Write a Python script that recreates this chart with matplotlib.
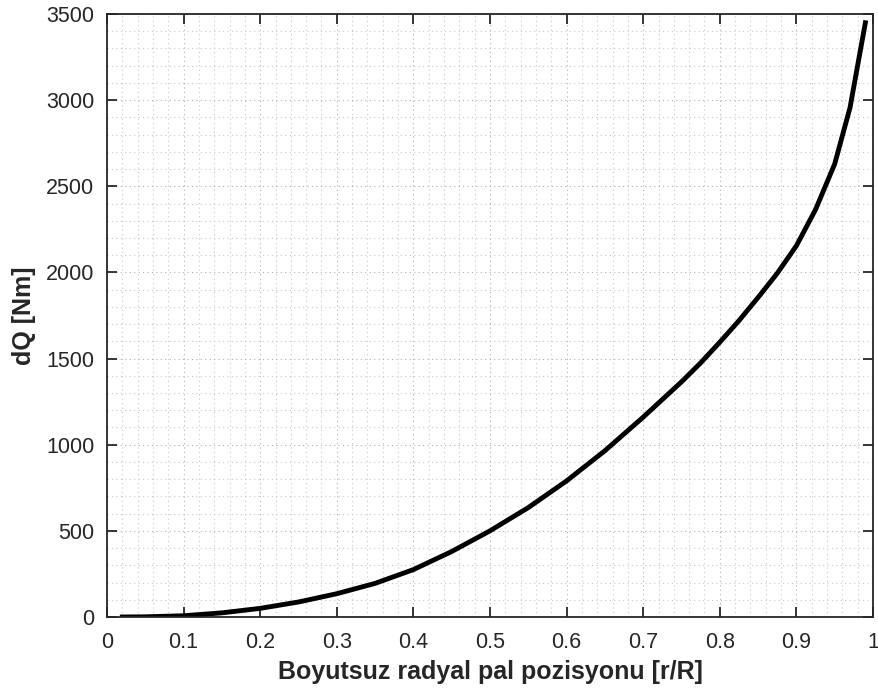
import numpy as np
import matplotlib.pyplot as plt
from matplotlib.ticker import MultipleLocator

plt.rcParams['font.family'] = ['Liberation Sans', 'DejaVu Sans']

# radyal pozisyon ve tork dagilimi
r = [0.02, 0.05, 0.1, 0.15, 0.2, 0.25, 0.3, 0.35, 0.4, 0.45, 0.5, 0.55, 0.6,
     0.65, 0.7, 0.75, 0.775, 0.8, 0.825, 0.85, 0.875, 0.9, 0.925, 0.95, 0.97, 0.99]
dQ = [0, 1, 7, 24, 50, 87, 135, 195, 275, 380, 500, 635, 790,
      965, 1160, 1365, 1475, 1595, 1720, 1855, 1995, 2155, 2365, 2630, 2957, 3449]
xticklab = ['0', '0.1', '0.2', '0.3', '0.4', '0.5', '0.6', '0.7', '0.8', '0.9', '1']

fig = plt.figure(figsize=(8.79, 7.0), dpi=100)
ax = fig.add_axes([0.1217, 0.1186, 0.8715, 0.8614])

ax.plot(r, dQ, color='black', lw=3.5, solid_joinstyle='round')

ax.set_xlim(0, 1)
ax.set_ylim(0, 3500)
ax.xaxis.set_minor_locator(MultipleLocator(0.02))
ax.yaxis.set_major_locator(MultipleLocator(500))
ax.yaxis.set_minor_locator(MultipleLocator(100))
ax.set_xticks(np.linspace(0, 1, 11))
ax.set_xticklabels(xticklab)

ax.grid(which='major', ls=(0, (1, 3)), color='#b0b0b0', lw=0.8)
ax.grid(which='minor', ls=(0, (1, 3)), color='#c8c8c8', lw=0.8)
ax.set_axisbelow(True)

ax.tick_params(which='major', direction='in', length=7, width=1.3, top=True, right=True,
               labelsize=15.5, colors='#262626')
ax.tick_params(axis='x', pad=11)
ax.tick_params(axis='y', pad=9)
ax.tick_params(which='minor', length=0, top=True, right=True)
for s in ax.spines.values():
    s.set_color('#262626')
    s.set_linewidth(1.3)

ax.set_xlabel('Boyutsuz radyal pal pozisyonu [r/R]', fontsize=18, fontweight='bold',
              color='#262626', labelpad=5)
ax.set_ylabel('dQ [Nm]', fontsize=18, fontweight='bold', color='#262626', labelpad=7)

fig.savefig('out.png', dpi=100)
